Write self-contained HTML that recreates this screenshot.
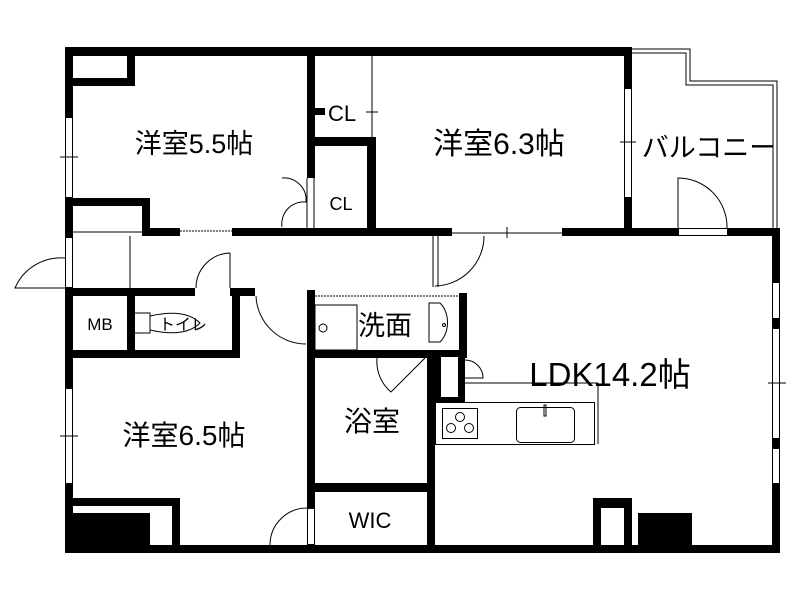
<!DOCTYPE html>
<html><head><meta charset="utf-8"><style>
html,body{margin:0;padding:0;background:#fff;}
svg{display:block;}
text{font-family:"Liberation Sans","Noto Sans CJK JP",sans-serif;fill:#000;}
</style></head><body>
<svg width="800" height="600" viewBox="0 0 800 600" xmlns="http://www.w3.org/2000/svg">
<rect width="800" height="600" fill="#fff"/>
<g fill="#000">
<rect x="65" y="47" width="567" height="9"/>
<rect x="65" y="47" width="8" height="506"/>
<rect x="65" y="545" width="715" height="8"/>
<rect x="772" y="228" width="8" height="325"/>
<rect x="127" y="56" width="8" height="30"/>
<rect x="73" y="78" width="62" height="8"/>
<rect x="307" y="47" width="8" height="131"/>
<rect x="315" y="108" width="10" height="7"/>
<rect x="307" y="137" width="69" height="9"/>
<rect x="367" y="137" width="9" height="91"/>
<rect x="65" y="198" width="85" height="8"/>
<rect x="142" y="198" width="8" height="38"/>
<rect x="142" y="228" width="38" height="8"/>
<rect x="232" y="228" width="220" height="8"/>
<rect x="562" y="228" width="218" height="8"/>
<rect x="624" y="47" width="8" height="189"/>
<rect x="65" y="288" width="130" height="8"/>
<rect x="230" y="288" width="25" height="8"/>
<rect x="127" y="288" width="8" height="62"/>
<rect x="232" y="288" width="8" height="70"/>
<rect x="65" y="350" width="175" height="8"/>
<rect x="307" y="290" width="8" height="255"/>
<rect x="307" y="350" width="160" height="8"/>
<rect x="459" y="293" width="8" height="65"/>
<rect x="427" y="350" width="8" height="195"/>
<rect x="307" y="483" width="128" height="9"/>
<rect x="435" y="350" width="30" height="52" />
<rect x="65" y="498" width="115" height="8"/>
<rect x="172" y="498" width="8" height="47"/>
<rect x="73" y="513" width="77" height="32"/>
<rect x="593" y="498" width="39" height="47"/>
<rect x="638" y="513" width="54" height="32"/>
</g>
<g fill="#fff">
<rect x="441" y="357" width="17" height="40"/>
<rect x="601" y="508" width="23" height="37"/>
<rect x="150" y="506" width="22" height="39"/>
<rect x="73" y="506" width="77" height="7"/>
</g>
<g fill="none" stroke="#000" stroke-width="1">
<rect x="65.5" y="117.5" width="7" height="80" fill="#fff"/>
<line x1="60" y1="157" x2="78" y2="157"/>
<rect x="65.5" y="388.5" width="7" height="95" fill="#fff"/>
<line x1="60" y1="436" x2="78" y2="436"/>
<rect x="65.5" y="237.5" width="7" height="50" fill="#fff"/>
<rect x="624.5" y="88.5" width="7" height="109" fill="#fff"/>
<line x1="620" y1="142" x2="636" y2="142"/>
<rect x="772.5" y="282.5" width="7" height="36" fill="#fff"/>
<rect x="772.5" y="328.5" width="7" height="110" fill="#fff"/>
<rect x="772.5" y="448.5" width="7" height="35" fill="#fff"/>
<line x1="768" y1="383" x2="786" y2="383"/>
<path d="M65 258 A50 50 0 0 0 15 288 L65 288"/>
<line x1="130" y1="236" x2="130" y2="288"/>
<line x1="73" y1="232" x2="142" y2="232"/>
<path d="M230 253 A35 35 0 0 0 196 288"/><line x1="230" y1="253" x2="230" y2="288"/>
<line x1="372" y1="56" x2="372" y2="137"/><line x1="366" y1="112" x2="378" y2="112"/>
<line x1="180" y1="231" x2="232" y2="231" stroke-dasharray="2,1"/>
<line x1="452" y1="233" x2="562" y2="233"/><line x1="507" y1="227" x2="507" y2="238"/>
<line x1="307" y1="178" x2="307" y2="228"/><line x1="314" y1="178" x2="314" y2="228"/>
<path d="M282 178 A22 22 0 0 1 306 202 A22 22 0 0 0 282 227"/>
<line x1="433" y1="236" x2="433" y2="287"/><line x1="438" y1="236" x2="438" y2="287"/>
<path d="M484 236 A50 50 0 0 1 435 286"/>
<path d="M256 296 A50 50 0 0 0 306 344"/>
<rect x="315" y="305" width="42" height="45"/>
<circle cx="323" cy="328" r="4"/>
<line x1="315" y1="296" x2="459" y2="296" stroke-dasharray="2,1"/>
<path d="M429 303 L440 303 A18 24 0 0 1 440 342 L429 342 Z"/>
<circle cx="444" cy="325" r="1.5"/>
<path d="M377 358 A40 40 0 0 0 391 392 L425 358"/>
<path d="M465 360 A18 18 0 0 1 483 378 L465 378"/>
<line x1="465" y1="383" x2="598" y2="383"/><line x1="598" y1="383" x2="598" y2="444"/>
<rect x="435.5" y="402.5" width="159" height="42"/>
<rect x="442.5" y="408.5" width="35" height="30"/>
<circle cx="460" cy="417" r="4.5"/><circle cx="451" cy="428" r="4.5"/><circle cx="469" cy="428" r="4.5"/>
<rect x="516.5" y="407.5" width="58" height="35" rx="4"/>
<rect x="544" y="405" width="2" height="11"/>
<path d="M307 508 A37 37 0 0 0 270 545"/>
<rect x="307.5" y="508.5" width="7" height="36" fill="#fff"/>
<path d="M632 49 L690 49 L690 81 L777 81 L777 228"/>
<path d="M632 53 L686 53 L686 85 L773 85 L773 228"/>
<path d="M678 228 L678 178 A49 49 0 0 1 727 228"/>
<rect x="678.5" y="228.5" width="49" height="7" fill="#fff"/>
<path d="M135 313 L150 313 L150 333 L135 333"/>
<path d="M150 316 Q185 308 200 323 Q185 338 150 330"/>
</g>
<g>
<text x="194" y="153" font-size="27" text-anchor="middle">洋室5.5帖</text>
<text x="499" y="154" font-size="30" text-anchor="middle">洋室6.3帖</text>
<text x="709" y="157" font-size="27" text-anchor="middle">バルコニー</text>
<text x="610" y="386" font-size="33" text-anchor="middle">LDK14.2帖</text>
<text x="184" y="445" font-size="28" text-anchor="middle">洋室6.5帖</text>
<text x="372" y="431" font-size="28" text-anchor="middle">浴室</text>
<text x="370" y="528" font-size="22" text-anchor="middle">WIC</text>
<text x="385" y="335" font-size="27" text-anchor="middle">洗面</text>
<text x="342" y="121" font-size="22" text-anchor="middle">CL</text>
<text x="341" y="210" font-size="18" text-anchor="middle">CL</text>
<text x="100" y="330" font-size="17" text-anchor="middle">MB</text>
<text x="183" y="330" font-size="16" text-anchor="middle">トイレ</text>
</g>
</svg>
</body></html>
